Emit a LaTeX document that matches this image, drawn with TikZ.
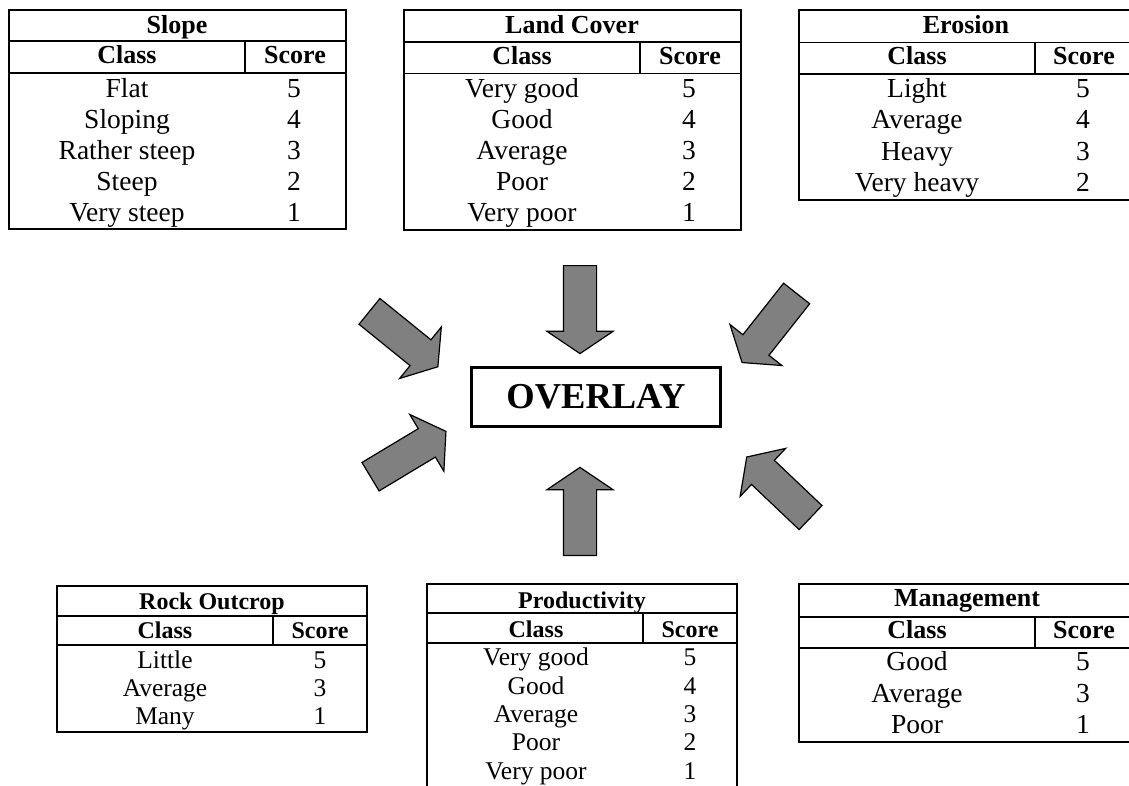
\documentclass[tikz,border=0pt]{standalone}
\usepackage{fontspec}
\setmainfont{Liberation Serif}
\usetikzlibrary{shapes.arrows}

\begin{document}
\begin{tikzpicture}[x=1pt, y=-1pt, line join=miter,
    frame/.style={line width=1.4pt},
    cell/.style={inner sep=0pt, anchor=base, font=\fontsize{27.5}{27.5}\selectfont},
    head/.style={cell, font=\fontsize{26}{26}\selectfont\bfseries},
    smallcell/.style={inner sep=0pt, anchor=base, font=\fontsize{25.5}{25.5}\selectfont},
    smallhead/.style={smallcell, font=\fontsize{24}{24}\selectfont\bfseries},
    bigarrow/.style={single arrow, draw=black, fill=gray, line width=1.2pt,
        minimum height=88pt, inner xsep=0pt, inner ysep=16pt,
        single arrow head extend=16.5pt, single arrow tip angle=112, anchor=tail}]
    \clip (0,0) rectangle (1129,785);
    %
    % Slope
    \draw[frame] (9,10) rectangle (346,229);
    \draw[frame] (9,41) -- (346,41) (9,73) -- (346,73) (245,41) -- (245,73);
    \node[head] (slope) at (177,33) {Slope};
    \node[head] (slopeclass) at (127,63) {Class};
    \node[head] (slopescore) at (295,63) {Score};
    \foreach \c/\s [count=\i] in {Flat/5, Sloping/4, Rather steep/3, Steep/2, Very steep/1} {
        \node[cell] (slope-c\i) at (127,{66+31*\i}) {\c};
        \node[cell] (slope-s\i) at (294,{66+31*\i}) {\s};
    }
    %
    % Land Cover
    \draw[frame] (404,10) rectangle (741,230);
    \draw[frame] (404,42) -- (741,42) (404,73.5) -- (741,73.5) (640,42) -- (640,73.5);
    \node[head] (land) at (572,33) {Land Cover};
    \node[head] (landclass) at (522,64) {Class};
    \node[head] (landscore) at (690,64) {Score};
    \foreach \c/\s [count=\i] in {Very good/5, Good/4, Average/3, Poor/2, Very poor/1} {
        \node[cell] (land-c\i) at (522,{66+31*\i}) {\c};
        \node[cell] (land-s\i) at (689,{66+31*\i}) {\s};
    }
    %
    % Erosion
    \draw[frame] (799,10) rectangle (1131,200);
    \draw[frame] (799,42.5) -- (1131,42.5) (799,74) -- (1131,74) (1035,42.5) -- (1035,74);
    \node[head] (erosion) at (966,33) {Erosion};
    \node[head] (erosionclass) at (917,64) {Class};
    \node[head] (erosionscore) at (1084,64) {Score};
    \foreach \c/\s [count=\i] in {Light/5, Average/4, Heavy/3, Very heavy/2} {
        \node[cell] (erosion-c\i) at (917,{65.5+31.5*\i}) {\c};
        \node[cell] (erosion-s\i) at (1083,{65.5+31.5*\i}) {\s};
    }
    %
    % Rock Outcrop
    \draw[frame] (57,586) rectangle (367,732);
    \draw[frame] (57,616) -- (367,616) (57,645) -- (367,645) (273,616) -- (273,645);
    \node[smallhead] (rock) at (212,609) {Rock Outcrop};
    \node[smallhead] (rockclass) at (165,638) {Class};
    \node[smallhead] (rockscore) at (320,638) {Score};
    \foreach \c/\s [count=\i] in {Little/5, Average/3, Many/1} {
        \node[smallcell] (rock-c\i) at (165,{640+28*\i}) {\c};
        \node[smallcell] (rock-s\i) at (320,{640+28*\i}) {\s};
    }
    %
    % Productivity
    \draw[frame] (427,584) rectangle (737,800);
    \draw[frame] (427,613) -- (737,613) (427,643) -- (737,643) (643,613) -- (643,643);
    \node[smallhead] (prod) at (582,608) {Productivity};
    \node[smallhead] (prodclass) at (536,637) {Class};
    \node[smallhead] (prodscore) at (690,637) {Score};
    \foreach \c/\s [count=\i] in {Very good/5, Good/4, Average/3, Poor/2, Very poor/1} {
        \node[smallcell] (prod-c\i) at (536,{637.5+28.3*\i}) {\c};
        \node[smallcell] (prod-s\i) at (690,{637.5+28.3*\i}) {\s};
    }
    %
    % Management
    \draw[frame] (799,584) rectangle (1131,742);
    \draw[frame] (799,617) -- (1131,617) (799,648) -- (1131,648) (1035,617) -- (1035,648);
    \node[head] (manage) at (967,606) {Management};
    \node[head] (manageclass) at (917,638) {Class};
    \node[head] (managescore) at (1084,638) {Score};
    \foreach \c/\s [count=\i] in {Good/5, Average/3, Poor/1} {
        \node[cell] (manage-c\i) at (917,{639+31.5*\i}) {\c};
        \node[cell] (manage-s\i) at (1083,{639+31.5*\i}) {\s};
    }
    %
    % Overlay and arrows
    \node[draw, line width=3pt, minimum width=249pt, minimum height=59pt, inner sep=0pt,
        font=\fontsize{36.5}{36.5}\selectfont\bfseries] (overlay) at (596,397) {OVERLAY};
    \node[bigarrow, rotate=-90] (arland) at (580,265) {};
    \node[bigarrow, rotate=90] (arprod) at (580,556) {};
    \node[bigarrow, rotate=-39] (arslope) at (369,311) {};
    \node[bigarrow, rotate=31] (arrock) at (370,477) {};
    \node[bigarrow, rotate=231.7] (arerosion) at (797,293) {};
    \node[bigarrow, rotate=136.5] (armanage) at (811,518) {};
\end{tikzpicture}
\end{document}
